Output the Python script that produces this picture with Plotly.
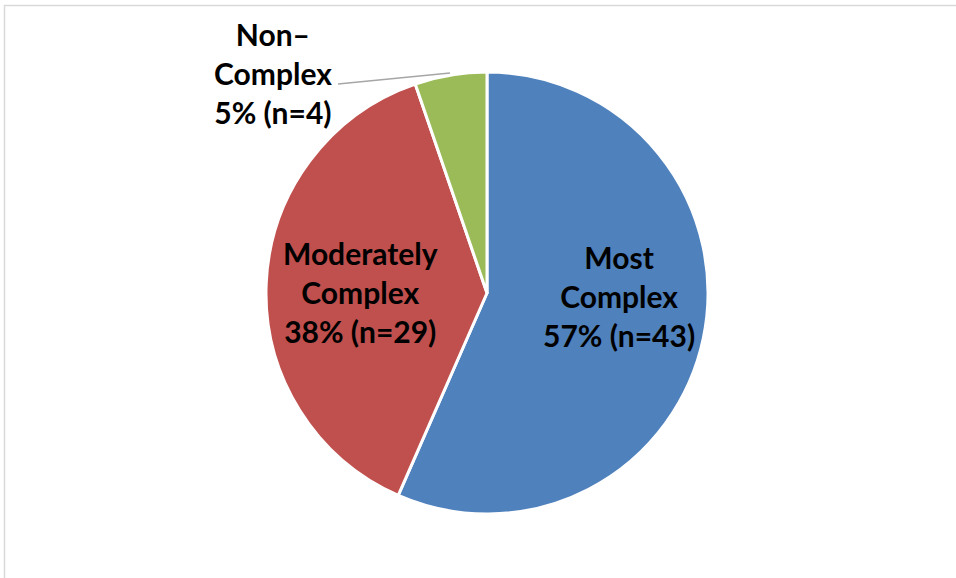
import plotly.graph_objects as go

categories = ["Most Complex", "Moderately Complex", "Non\u2013Complex"]
counts = [43, 29, 4]
percent_labels = ["57%", "38%", "5%"]
label_lines = [["Most", "Complex"], ["Moderately", "Complex"], ["Non\u2013", "Complex"]]
colors = ["#4F81BD", "#C0504D", "#9BBB59"]

W, H = 956, 578
FONT = "Lato"

fig = go.Figure(go.Pie(
    labels=categories, values=counts, sort=False, direction="clockwise", rotation=0,
    marker=dict(colors=colors, line=dict(color="white", width=3)),
    textinfo="none", hoverinfo="label+value+percent", showlegend=False,
    domain=dict(x=[266 / W, 708 / W], y=[1 - 514 / H, 1 - 72 / H]),
))

def px(x, y):
    return x / W, 1 - y / H

label_pos = [(619, 296), (360, 292), (273, 73)]
for i, cat in enumerate(categories):
    text = "<br>".join(label_lines[i] + [f"{percent_labels[i]} (n={counts[i]})"])
    x, y = px(*label_pos[i])
    fig.add_annotation(x=x, y=y, xref="paper", yref="paper", text=text, showarrow=False,
                       font=dict(family=FONT, size=30, color="black", weight="bold"),
                       align="center", xanchor="center", yanchor="middle")

# leader line for the small slice
x0, y0 = px(338, 84)
x1, y1 = px(450, 73)
fig.add_shape(type="line", xref="paper", yref="paper", x0=x0, y0=y0, x1=x1, y1=y1,
              line=dict(color="#A6A6A6", width=1.5))

# chart frame (top and left edges visible)
fx0, fy1 = px(4.5, 5.5)
fig.add_shape(type="rect", xref="paper", yref="paper", x0=fx0, y0=-0.05, x1=1.05, y1=fy1,
              line=dict(color="#D9D9D9", width=1.5), fillcolor="rgba(0,0,0,0)")

fig.update_layout(width=W, height=H, margin=dict(l=0, r=0, t=0, b=0),
                  paper_bgcolor="white", plot_bgcolor="white")
fig.write_html("out.html")
